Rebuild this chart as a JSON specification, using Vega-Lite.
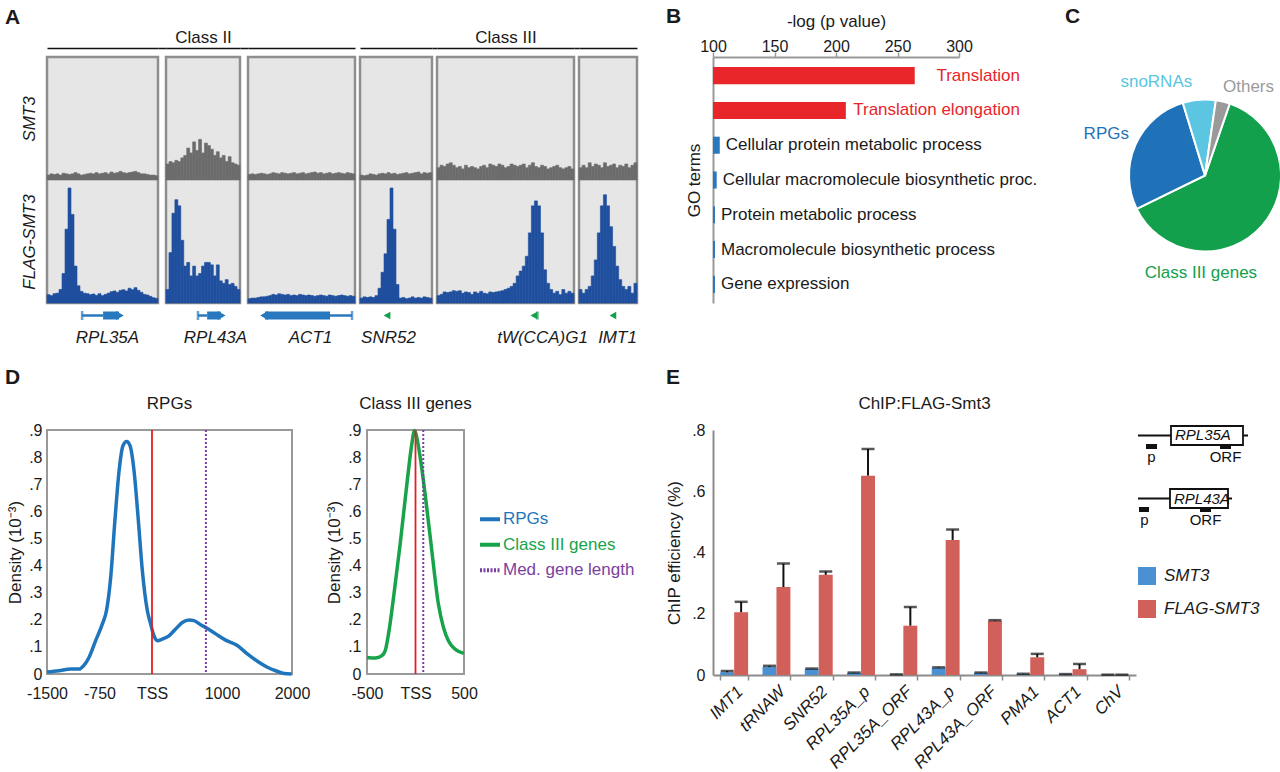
{
"$schema":"https://vega.github.io/schema/vega-lite/v6.json",
"background":"white",
"padding":{"left":5,"top":6,"right":0,"bottom":0},
"config":{"font":"Liberation Sans","view":{"stroke":null},"axis":{"grid":false,"labelColor":"#1a1a1a","titleColor":"#1a1a1a","titleFontWeight":"normal","labelFlush":false,"labelOverlap":false},"title":{"fontWeight":"normal","color":"#1a1a1a","baseline":"alphabetic"},"legend":{"labelColor":"#1a1a1a"}},
"datasets":{
"tracks":[
{"g":"RPL35A","b":0,"s":0.04,"f":0.068},{"g":"RPL35A","b":1,"s":0.05,"f":0.06},{"g":"RPL35A","b":2,"s":0.045,"f":0.076},{"g":"RPL35A","b":3,"s":0.05,"f":0.08},{"g":"RPL35A","b":4,"s":0.04,"f":0.11},{"g":"RPL35A","b":5,"s":0.055,"f":0.24},{"g":"RPL35A","b":6,"s":0.05,"f":0.6},{"g":"RPL35A","b":7,"s":0.045,"f":0.935},{"g":"RPL35A","b":8,"s":0.05,"f":0.72},{"g":"RPL35A","b":9,"s":0.06,"f":0.3},{"g":"RPL35A","b":10,"s":0.05,"f":0.14},{"g":"RPL35A","b":11,"s":0.04,"f":0.095},{"g":"RPL35A","b":12,"s":0.045,"f":0.08},{"g":"RPL35A","b":13,"s":0.05,"f":0.076},{"g":"RPL35A","b":14,"s":0.055,"f":0.068},{"g":"RPL35A","b":15,"s":0.05,"f":0.073},{"g":"RPL35A","b":16,"s":0.06,"f":0.062},{"g":"RPL35A","b":17,"s":0.05,"f":0.076},{"g":"RPL35A","b":18,"s":0.055,"f":0.06},{"g":"RPL35A","b":19,"s":0.06,"f":0.07},{"g":"RPL35A","b":20,"s":0.05,"f":0.08},{"g":"RPL35A","b":21,"s":0.065,"f":0.092},{"g":"RPL35A","b":22,"s":0.055,"f":0.098},{"g":"RPL35A","b":23,"s":0.06,"f":0.087},{"g":"RPL35A","b":24,"s":0.07,"f":0.103},{"g":"RPL35A","b":25,"s":0.06,"f":0.108},{"g":"RPL35A","b":26,"s":0.055,"f":0.098},{"g":"RPL35A","b":27,"s":0.06,"f":0.12},{"g":"RPL35A","b":28,"s":0.065,"f":0.108},{"g":"RPL35A","b":29,"s":0.07,"f":0.125},{"g":"RPL35A","b":30,"s":0.06,"f":0.103},{"g":"RPL35A","b":31,"s":0.05,"f":0.087},{"g":"RPL35A","b":32,"s":0.05,"f":0.07},{"g":"RPL35A","b":33,"s":0.045,"f":0.065},{"g":"RPL35A","b":34,"s":0.04,"f":0.054},{"g":"RPL35A","b":35,"s":0.04,"f":0.043},{"g":"RPL35A","b":36,"s":0.035,"f":0.038},
{"g":"RPL43A","b":0,"s":0.13,"f":0.11},{"g":"RPL43A","b":1,"s":0.15,"f":0.41},{"g":"RPL43A","b":2,"s":0.14,"f":0.73},{"g":"RPL43A","b":3,"s":0.16,"f":0.84},{"g":"RPL43A","b":4,"s":0.15,"f":0.79},{"g":"RPL43A","b":5,"s":0.18,"f":0.51},{"g":"RPL43A","b":6,"s":0.2,"f":0.3},{"g":"RPL43A","b":7,"s":0.26,"f":0.33},{"g":"RPL43A","b":8,"s":0.22,"f":0.22},{"g":"RPL43A","b":9,"s":0.31,"f":0.3},{"g":"RPL43A","b":10,"s":0.24,"f":0.22},{"g":"RPL43A","b":11,"s":0.33,"f":0.24},{"g":"RPL43A","b":12,"s":0.22,"f":0.3},{"g":"RPL43A","b":13,"s":0.3,"f":0.33},{"g":"RPL43A","b":14,"s":0.28,"f":0.33},{"g":"RPL43A","b":15,"s":0.25,"f":0.31},{"g":"RPL43A","b":16,"s":0.2,"f":0.22},{"g":"RPL43A","b":17,"s":0.23,"f":0.31},{"g":"RPL43A","b":18,"s":0.18,"f":0.18},{"g":"RPL43A","b":19,"s":0.2,"f":0.16},{"g":"RPL43A","b":20,"s":0.15,"f":0.19},{"g":"RPL43A","b":21,"s":0.19,"f":0.15},{"g":"RPL43A","b":22,"s":0.14,"f":0.16},{"g":"RPL43A","b":23,"s":0.13,"f":0.135},{"g":"RPL43A","b":24,"s":0.12,"f":0.11},
{"g":"ACT1","b":0,"s":0.045,"f":0.035},{"g":"ACT1","b":1,"s":0.05,"f":0.04},{"g":"ACT1","b":2,"s":0.045,"f":0.04},{"g":"ACT1","b":3,"s":0.05,"f":0.045},{"g":"ACT1","b":4,"s":0.055,"f":0.05},{"g":"ACT1","b":5,"s":0.05,"f":0.05},{"g":"ACT1","b":6,"s":0.045,"f":0.055},{"g":"ACT1","b":7,"s":0.05,"f":0.06},{"g":"ACT1","b":8,"s":0.06,"f":0.07},{"g":"ACT1","b":9,"s":0.055,"f":0.065},{"g":"ACT1","b":10,"s":0.05,"f":0.075},{"g":"ACT1","b":11,"s":0.06,"f":0.07},{"g":"ACT1","b":12,"s":0.055,"f":0.065},{"g":"ACT1","b":13,"s":0.05,"f":0.07},{"g":"ACT1","b":14,"s":0.055,"f":0.06},{"g":"ACT1","b":15,"s":0.06,"f":0.065},{"g":"ACT1","b":16,"s":0.05,"f":0.06},{"g":"ACT1","b":17,"s":0.055,"f":0.07},{"g":"ACT1","b":18,"s":0.06,"f":0.065},{"g":"ACT1","b":19,"s":0.05,"f":0.06},{"g":"ACT1","b":20,"s":0.055,"f":0.065},{"g":"ACT1","b":21,"s":0.06,"f":0.06},{"g":"ACT1","b":22,"s":0.065,"f":0.055},{"g":"ACT1","b":23,"s":0.055,"f":0.06},{"g":"ACT1","b":24,"s":0.06,"f":0.065},{"g":"ACT1","b":25,"s":0.05,"f":0.06},{"g":"ACT1","b":26,"s":0.055,"f":0.055},{"g":"ACT1","b":27,"s":0.06,"f":0.065},{"g":"ACT1","b":28,"s":0.05,"f":0.06},{"g":"ACT1","b":29,"s":0.055,"f":0.055},{"g":"ACT1","b":30,"s":0.06,"f":0.06},{"g":"ACT1","b":31,"s":0.055,"f":0.065},{"g":"ACT1","b":32,"s":0.05,"f":0.06},{"g":"ACT1","b":33,"s":0.06,"f":0.055},{"g":"ACT1","b":34,"s":0.055,"f":0.06},{"g":"ACT1","b":35,"s":0.05,"f":0.055},
{"g":"SNR52","b":0,"s":0.04,"f":0.04},{"g":"SNR52","b":1,"s":0.035,"f":0.05},{"g":"SNR52","b":2,"s":0.04,"f":0.045},{"g":"SNR52","b":3,"s":0.05,"f":0.05},{"g":"SNR52","b":4,"s":0.045,"f":0.045},{"g":"SNR52","b":5,"s":0.04,"f":0.06},{"g":"SNR52","b":6,"s":0.05,"f":0.12},{"g":"SNR52","b":7,"s":0.055,"f":0.25},{"g":"SNR52","b":8,"s":0.05,"f":0.4},{"g":"SNR52","b":9,"s":0.06,"f":0.68},{"g":"SNR52","b":10,"s":0.05,"f":0.935},{"g":"SNR52","b":11,"s":0.055,"f":0.6},{"g":"SNR52","b":12,"s":0.045,"f":0.15},{"g":"SNR52","b":13,"s":0.05,"f":0.04},{"g":"SNR52","b":14,"s":0.055,"f":0.045},{"g":"SNR52","b":15,"s":0.06,"f":0.035},{"g":"SNR52","b":16,"s":0.05,"f":0.04},{"g":"SNR52","b":17,"s":0.055,"f":0.05},{"g":"SNR52","b":18,"s":0.06,"f":0.04},{"g":"SNR52","b":19,"s":0.065,"f":0.045},{"g":"SNR52","b":20,"s":0.05,"f":0.04},{"g":"SNR52","b":21,"s":0.06,"f":0.05},{"g":"SNR52","b":22,"s":0.055,"f":0.045},{"g":"SNR52","b":23,"s":0.06,"f":0.04},
{"g":"tW(CCA)G1","b":0,"s":0.1,"f":0.06},{"g":"tW(CCA)G1","b":1,"s":0.12,"f":0.07},{"g":"tW(CCA)G1","b":2,"s":0.11,"f":0.09},{"g":"tW(CCA)G1","b":3,"s":0.13,"f":0.085},{"g":"tW(CCA)G1","b":4,"s":0.14,"f":0.09},{"g":"tW(CCA)G1","b":5,"s":0.12,"f":0.1},{"g":"tW(CCA)G1","b":6,"s":0.1,"f":0.095},{"g":"tW(CCA)G1","b":7,"s":0.11,"f":0.1},{"g":"tW(CCA)G1","b":8,"s":0.09,"f":0.08},{"g":"tW(CCA)G1","b":9,"s":0.12,"f":0.09},{"g":"tW(CCA)G1","b":10,"s":0.1,"f":0.085},{"g":"tW(CCA)G1","b":11,"s":0.11,"f":0.07},{"g":"tW(CCA)G1","b":12,"s":0.1,"f":0.09},{"g":"tW(CCA)G1","b":13,"s":0.09,"f":0.08},{"g":"tW(CCA)G1","b":14,"s":0.11,"f":0.095},{"g":"tW(CCA)G1","b":15,"s":0.12,"f":0.08},{"g":"tW(CCA)G1","b":16,"s":0.1,"f":0.075},{"g":"tW(CCA)G1","b":17,"s":0.13,"f":0.09},{"g":"tW(CCA)G1","b":18,"s":0.12,"f":0.085},{"g":"tW(CCA)G1","b":19,"s":0.11,"f":0.09},{"g":"tW(CCA)G1","b":20,"s":0.13,"f":0.095},{"g":"tW(CCA)G1","b":21,"s":0.12,"f":0.1},{"g":"tW(CCA)G1","b":22,"s":0.1,"f":0.11},{"g":"tW(CCA)G1","b":23,"s":0.11,"f":0.12},{"g":"tW(CCA)G1","b":24,"s":0.13,"f":0.135},{"g":"tW(CCA)G1","b":25,"s":0.12,"f":0.16},{"g":"tW(CCA)G1","b":26,"s":0.11,"f":0.22},{"g":"tW(CCA)G1","b":27,"s":0.12,"f":0.26},{"g":"tW(CCA)G1","b":28,"s":0.13,"f":0.3},{"g":"tW(CCA)G1","b":29,"s":0.1,"f":0.38},{"g":"tW(CCA)G1","b":30,"s":0.12,"f":0.57},{"g":"tW(CCA)G1","b":31,"s":0.14,"f":0.79},{"g":"tW(CCA)G1","b":32,"s":0.11,"f":0.83},{"g":"tW(CCA)G1","b":33,"s":0.1,"f":0.79},{"g":"tW(CCA)G1","b":34,"s":0.12,"f":0.57},{"g":"tW(CCA)G1","b":35,"s":0.11,"f":0.27},{"g":"tW(CCA)G1","b":36,"s":0.09,"f":0.16},{"g":"tW(CCA)G1","b":37,"s":0.1,"f":0.11},{"g":"tW(CCA)G1","b":38,"s":0.11,"f":0.08},{"g":"tW(CCA)G1","b":39,"s":0.12,"f":0.095},{"g":"tW(CCA)G1","b":40,"s":0.1,"f":0.068},{"g":"tW(CCA)G1","b":41,"s":0.09,"f":0.11},{"g":"tW(CCA)G1","b":42,"s":0.1,"f":0.08},{"g":"tW(CCA)G1","b":43,"s":0.11,"f":0.095},{"g":"tW(CCA)G1","b":44,"s":0.09,"f":0.08},
{"g":"IMT1","b":0,"s":0.1,"f":0.11},{"g":"IMT1","b":1,"s":0.12,"f":0.08},{"g":"IMT1","b":2,"s":0.1,"f":0.11},{"g":"IMT1","b":3,"s":0.14,"f":0.135},{"g":"IMT1","b":4,"s":0.11,"f":0.22},{"g":"IMT1","b":5,"s":0.13,"f":0.35},{"g":"IMT1","b":6,"s":0.12,"f":0.57},{"g":"IMT1","b":7,"s":0.1,"f":0.79},{"g":"IMT1","b":8,"s":0.14,"f":0.88},{"g":"IMT1","b":9,"s":0.11,"f":0.79},{"g":"IMT1","b":10,"s":0.12,"f":0.62},{"g":"IMT1","b":11,"s":0.13,"f":0.46},{"g":"IMT1","b":12,"s":0.1,"f":0.3},{"g":"IMT1","b":13,"s":0.12,"f":0.19},{"g":"IMT1","b":14,"s":0.11,"f":0.135},{"g":"IMT1","b":15,"s":0.13,"f":0.11},{"g":"IMT1","b":16,"s":0.1,"f":0.135},{"g":"IMT1","b":17,"s":0.12,"f":0.08},{"g":"IMT1","b":18,"s":0.14,"f":0.16}
],
"genes":[
{"g":"RPL35A","k":"thin","a":11.7,"b":18.7},{"g":"RPL35A","k":"end","a":11.7},{"g":"RPL35A","k":"thick","a":18.7,"b":24},{"g":"RPL35A","k":"headR","a":24.3},
{"g":"RPL43A","k":"thin","a":10.8,"b":13.9},{"g":"RPL43A","k":"end","a":10.8},{"g":"RPL43A","k":"thick","a":13.9,"b":18.5},{"g":"RPL43A","k":"headR","a":18.8},
{"g":"ACT1","k":"headL","a":5.4},{"g":"ACT1","k":"thick","a":5.7,"b":27.6},{"g":"ACT1","k":"thin","a":27.6,"b":35},{"g":"ACT1","k":"end","a":35},
{"g":"SNR52","k":"headL","a":9},
{"g":"tW(CCA)G1","k":"headL","a":31.8},{"g":"tW(CCA)G1","k":"end","a":33},
{"g":"IMT1","k":"headL","a":11.1}
],
"go":[
{"term":"Translation","v":264,"sig":"hi"},{"term":"Translation elongation","v":208,"sig":"hi"},{"term":"Cellular protein metabolic process","v":105.5,"sig":"lo"},{"term":"Cellular macromolecule biosynthetic proc.","v":103,"sig":"lo"},{"term":"Protein metabolic process","v":101.6,"sig":"lo"},{"term":"Macromolecule biosynthetic process","v":101.6,"sig":"lo"},{"term":"Gene expression","v":101.6,"sig":"lo"}
],
"pie":[
{"cat":"Class III genes","v":62.5,"i":1},{"cat":"RPGs","v":27.5,"i":2},{"cat":"snoRNAs","v":7,"i":3},{"cat":"Others","v":3,"i":4}
],
"rpg":[
{"pos":-1500,"d":0.007},{"pos":-1330,"d":0.012},{"pos":-1160,"d":0.018},{"pos":-1045,"d":0.018},{"pos":-970,"d":0.033},{"pos":-900,"d":0.061},{"pos":-805,"d":0.123},{"pos":-710,"d":0.184},{"pos":-650,"d":0.234},{"pos":-590,"d":0.357},{"pos":-530,"d":0.566},{"pos":-470,"d":0.75},{"pos":-415,"d":0.842},{"pos":-362,"d":0.858},{"pos":-314,"d":0.842},{"pos":-257,"d":0.75},{"pos":-195,"d":0.566},{"pos":-138,"d":0.381},{"pos":-67,"d":0.234},{"pos":-19,"d":0.184},{"pos":28,"d":0.141},{"pos":76,"d":0.123},{"pos":148,"d":0.129},{"pos":243,"d":0.141},{"pos":338,"d":0.166},{"pos":433,"d":0.19},{"pos":529,"d":0.199},{"pos":600,"d":0.197},{"pos":695,"d":0.182},{"pos":790,"d":0.168},{"pos":910,"d":0.148},{"pos":1052,"d":0.125},{"pos":1219,"d":0.105},{"pos":1362,"d":0.074},{"pos":1505,"d":0.047},{"pos":1648,"d":0.025},{"pos":1767,"d":0.012},{"pos":1886,"d":0.002},{"pos":1995,"d":0}
],
"cls3":[
{"pos":-500,"d":0.061},{"pos":-415,"d":0.059},{"pos":-346,"d":0.068},{"pos":-312,"d":0.086},{"pos":-278,"d":0.148},{"pos":-226,"d":0.283},{"pos":-158,"d":0.48},{"pos":-89,"d":0.7},{"pos":-38,"d":0.848},{"pos":-10,"d":0.898},{"pos":13,"d":0.873},{"pos":48,"d":0.8},{"pos":99,"d":0.664},{"pos":168,"d":0.455},{"pos":236,"d":0.258},{"pos":288,"d":0.172},{"pos":339,"d":0.123},{"pos":407,"d":0.092},{"pos":500,"d":0.076}
],
"refs":[
{"p":"RPGs","k":"TSS","x":0},{"p":"RPGs","k":"med","x":770},{"p":"Class III","k":"TSS","x":0},{"p":"Class III","k":"med","x":80}
],
"dleg":[{"name":"RPGs"},{"name":"Class III genes"},{"name":"Med. gene length"}],
"chip":[
{"t":"IMT1","s":"SMT3","v":0.009,"e":0.013},{"t":"IMT1","s":"FLAG-SMT3","v":0.205,"e":0.239},
{"t":"tRNAW","s":"SMT3","v":0.026,"e":0.03},{"t":"tRNAW","s":"FLAG-SMT3","v":0.287,"e":0.364},
{"t":"SNR52","s":"SMT3","v":0.02,"e":0.021},{"t":"SNR52","s":"FLAG-SMT3","v":0.327,"e":0.338},
{"t":"RPL35A_p","s":"SMT3","v":0.007,"e":0.008},{"t":"RPL35A_p","s":"FLAG-SMT3","v":0.651,"e":0.738},
{"t":"RPL35A_ORF","s":"SMT3","v":0.001,"e":0.002},{"t":"RPL35A_ORF","s":"FLAG-SMT3","v":0.161,"e":0.222},
{"t":"RPL43A_p","s":"SMT3","v":0.023,"e":0.025},{"t":"RPL43A_p","s":"FLAG-SMT3","v":0.441,"e":0.475},
{"t":"RPL43A_ORF","s":"SMT3","v":0.007,"e":0.008},{"t":"RPL43A_ORF","s":"FLAG-SMT3","v":0.177,"e":0.179},
{"t":"PMA1","s":"SMT3","v":0.003,"e":0.004},{"t":"PMA1","s":"FLAG-SMT3","v":0.058,"e":0.069},
{"t":"ACT1","s":"SMT3","v":0.002,"e":0.003},{"t":"ACT1","s":"FLAG-SMT3","v":0.019,"e":0.036},
{"t":"ChV","s":"SMT3","v":0.001,"e":0.001},{"t":"ChV","s":"FLAG-SMT3","v":0.001,"e":0.001}
],
"diag":[
{"gene":"RPL35A","el":"line","a":0,"b":110},{"gene":"RPL35A","el":"box","a":33,"b":105},{"gene":"RPL35A","el":"p","a":8,"b":19},{"gene":"RPL35A","el":"ORF","a":82,"b":93},
{"gene":"RPL43A","el":"line","a":0,"b":94},{"gene":"RPL43A","el":"box","a":32,"b":90},{"gene":"RPL43A","el":"p","a":1,"b":11},{"gene":"RPL43A","el":"ORF","a":62,"b":73}
]
},
"spacing":22,
"resolve":{"scale":{"color":"independent"},"legend":{"color":"independent"}},
"vconcat":[
{"columns":15,"align":"each","bounds":"flush","spacing":0,
 "resolve":{"scale":{"color":"independent"},"legend":{"color":"independent"}},
 "concat":[
{"width":111,"height":9,"data":{"values":[{"c":"x"}]},"mark":{"type":"point","opacity":0},"encoding":{"x":{"field":"c","type":"nominal","axis":{"orient":"top","title":null,"labels":false,"ticks":false,"domainColor":"#111","domainWidth":1.5}}},"title":{"text":"A","anchor":"start","frame":"group","fontSize":21,"fontWeight":"bold","dx":-42,"offset":20}},
{"width":8,"height":9,"data":{"values":[{"c":"x"}]},"mark":{"type":"point","opacity":0},"encoding":{"x":{"field":"c","type":"nominal","axis":{"orient":"top","title":null,"labels":false,"ticks":false,"domainColor":"#111","domainWidth":1.5}}}},
{"width":74,"height":9,"data":{"values":[{"c":"x"}]},"mark":{"type":"point","opacity":0},"encoding":{"x":{"field":"c","type":"nominal","axis":{"orient":"top","title":"Class II","labels":false,"ticks":false,"domainColor":"#111","domainWidth":1.5,"titleFontSize":17,"titlePadding":2}}}},
{"width":8,"height":9,"data":{"values":[{"c":"x"}]},"mark":{"type":"point","opacity":0},"encoding":{"x":{"field":"c","type":"nominal","axis":{"orient":"top","title":null,"labels":false,"ticks":false,"domainColor":"#111","domainWidth":1.5}}}},
{"width":107,"height":9,"data":{"values":[{"c":"x"}]},"mark":{"type":"point","opacity":0},"encoding":{"x":{"field":"c","type":"nominal","axis":{"orient":"top","title":null,"labels":false,"ticks":false,"domainColor":"#111","domainWidth":1.5}}}},
{"width":5,"height":9,"data":{"values":[]},"mark":"point"},
{"width":72,"height":9,"data":{"values":[{"c":"x"}]},"mark":{"type":"point","opacity":0},"encoding":{"x":{"field":"c","type":"nominal","axis":{"orient":"top","title":null,"labels":false,"ticks":false,"domainColor":"#111","domainWidth":1.5}}}},
{"width":5,"height":9,"data":{"values":[{"c":"x"}]},"mark":{"type":"point","opacity":0},"encoding":{"x":{"field":"c","type":"nominal","axis":{"orient":"top","title":null,"labels":false,"ticks":false,"domainColor":"#111","domainWidth":1.5}}}},
{"width":137,"height":9,"data":{"values":[{"c":"x"}]},"mark":{"type":"point","opacity":0},"encoding":{"x":{"field":"c","type":"nominal","axis":{"orient":"top","title":"Class III","labels":false,"ticks":false,"domainColor":"#111","domainWidth":1.5,"titleFontSize":17,"titlePadding":2}}}},
{"width":5,"height":9,"data":{"values":[{"c":"x"}]},"mark":{"type":"point","opacity":0},"encoding":{"x":{"field":"c","type":"nominal","axis":{"orient":"top","title":null,"labels":false,"ticks":false,"domainColor":"#111","domainWidth":1.5}}}},
{"width":58,"height":9,"data":{"values":[{"c":"x"}]},"mark":{"type":"point","opacity":0},"encoding":{"x":{"field":"c","type":"nominal","axis":{"orient":"top","title":null,"labels":false,"ticks":false,"domainColor":"#111","domainWidth":1.5}}}},
{"width":76,"height":9,"data":{"values":[]},"mark":"point"},
{"width":246,"height":9,"data":{"values":[]},"mark":"point","title":{"text":"B","anchor":"start","frame":"group","fontSize":21,"fontWeight":"bold","dx":-47,"offset":21}},
{"width":170,"height":9,"data":{"values":[]},"mark":"point"},
{"width":152,"height":9,"data":{"values":[]},"mark":"point","title":{"text":"C","anchor":"start","frame":"group","fontSize":21,"fontWeight":"bold","dx":-64,"offset":21}},

{"width":111,"height":246,"view":{"stroke":"#8e8e8e","strokeWidth":2.5,"fill":"#e6e6e6"},"data":{"name":"tracks"},"transform":[{"filter":"datum.g == 'RPL35A'"}],
 "layer":[
  {"mark":{"type":"bar","color":"#6b6b6b","stroke":"#6b6b6b","strokeWidth":0.6},"encoding":{"x":{"field":"b","type":"ordinal","scale":{"paddingInner":0,"paddingOuter":0},"axis":null},"y":{"field":"s","type":"quantitative","scale":{"domain":[-1,1],"nice":false},"axis":null}}},
  {"mark":{"type":"bar","color":"#1f4f9e","stroke":"#1f4f9e","strokeWidth":0.6},"encoding":{"x":{"field":"b","type":"ordinal","axis":null},"y":{"field":"f","type":"quantitative","scale":{"domain":[0,2],"nice":false},"axis":{"values":[0.5,1.5],"labelExpr":"datum.value > 1 ? 'SMT3' : 'FLAG-SMT3'","labelAngle":-90,"labelAlign":"center","labelBaseline":"bottom","labelFontSize":17,"labelFontStyle":"italic","labelPadding":9,"domain":false,"ticks":false,"title":null}}}}
 ],"resolve":{"scale":{"y":"independent"}}},
{"width":8,"height":246,"data":{"values":[]},"mark":"point"},
{"width":74,"height":246,"view":{"stroke":"#8e8e8e","strokeWidth":2.5,"fill":"#e6e6e6"},"data":{"name":"tracks"},"transform":[{"filter":"datum.g == 'RPL43A'"}],
 "layer":[
  {"mark":{"type":"bar","color":"#6b6b6b","stroke":"#6b6b6b","strokeWidth":0.6},"encoding":{"x":{"field":"b","type":"ordinal","scale":{"paddingInner":0,"paddingOuter":0},"axis":null},"y":{"field":"s","type":"quantitative","scale":{"domain":[-1,1],"nice":false},"axis":null}}},
  {"mark":{"type":"bar","color":"#1f4f9e","stroke":"#1f4f9e","strokeWidth":0.6},"encoding":{"x":{"field":"b","type":"ordinal","axis":null},"y":{"field":"f","type":"quantitative","scale":{"domain":[0,2],"nice":false},"axis":null}}}
 ],"resolve":{"scale":{"y":"independent"}}},
{"width":8,"height":246,"data":{"values":[]},"mark":"point"},
{"width":107,"height":246,"view":{"stroke":"#8e8e8e","strokeWidth":2.5,"fill":"#e6e6e6"},"data":{"name":"tracks"},"transform":[{"filter":"datum.g == 'ACT1'"}],
 "layer":[
  {"mark":{"type":"bar","color":"#6b6b6b","stroke":"#6b6b6b","strokeWidth":0.6},"encoding":{"x":{"field":"b","type":"ordinal","scale":{"paddingInner":0,"paddingOuter":0},"axis":null},"y":{"field":"s","type":"quantitative","scale":{"domain":[-1,1],"nice":false},"axis":null}}},
  {"mark":{"type":"bar","color":"#1f4f9e","stroke":"#1f4f9e","strokeWidth":0.6},"encoding":{"x":{"field":"b","type":"ordinal","axis":null},"y":{"field":"f","type":"quantitative","scale":{"domain":[0,2],"nice":false},"axis":null}}}
 ],"resolve":{"scale":{"y":"independent"}}},
{"width":5,"height":246,"data":{"values":[]},"mark":"point"},
{"width":72,"height":246,"view":{"stroke":"#8e8e8e","strokeWidth":2.5,"fill":"#e6e6e6"},"data":{"name":"tracks"},"transform":[{"filter":"datum.g == 'SNR52'"}],
 "layer":[
  {"mark":{"type":"bar","color":"#6b6b6b","stroke":"#6b6b6b","strokeWidth":0.6},"encoding":{"x":{"field":"b","type":"ordinal","scale":{"paddingInner":0,"paddingOuter":0},"axis":null},"y":{"field":"s","type":"quantitative","scale":{"domain":[-1,1],"nice":false},"axis":null}}},
  {"mark":{"type":"bar","color":"#1f4f9e","stroke":"#1f4f9e","strokeWidth":0.6},"encoding":{"x":{"field":"b","type":"ordinal","axis":null},"y":{"field":"f","type":"quantitative","scale":{"domain":[0,2],"nice":false},"axis":null}}}
 ],"resolve":{"scale":{"y":"independent"}}},
{"width":5,"height":246,"data":{"values":[]},"mark":"point"},
{"width":137,"height":246,"view":{"stroke":"#8e8e8e","strokeWidth":2.5,"fill":"#e6e6e6"},"data":{"name":"tracks"},"transform":[{"filter":"datum.g == 'tW(CCA)G1'"}],
 "layer":[
  {"mark":{"type":"bar","color":"#6b6b6b","stroke":"#6b6b6b","strokeWidth":0.6},"encoding":{"x":{"field":"b","type":"ordinal","scale":{"paddingInner":0,"paddingOuter":0},"axis":null},"y":{"field":"s","type":"quantitative","scale":{"domain":[-1,1],"nice":false},"axis":null}}},
  {"mark":{"type":"bar","color":"#1f4f9e","stroke":"#1f4f9e","strokeWidth":0.6},"encoding":{"x":{"field":"b","type":"ordinal","axis":null},"y":{"field":"f","type":"quantitative","scale":{"domain":[0,2],"nice":false},"axis":null}}}
 ],"resolve":{"scale":{"y":"independent"}}},
{"width":5,"height":246,"data":{"values":[]},"mark":"point"},
{"width":58,"height":246,"view":{"stroke":"#8e8e8e","strokeWidth":2.5,"fill":"#e6e6e6"},"data":{"name":"tracks"},"transform":[{"filter":"datum.g == 'IMT1'"}],
 "layer":[
  {"mark":{"type":"bar","color":"#6b6b6b","stroke":"#6b6b6b","strokeWidth":0.6},"encoding":{"x":{"field":"b","type":"ordinal","scale":{"paddingInner":0,"paddingOuter":0},"axis":null},"y":{"field":"s","type":"quantitative","scale":{"domain":[-1,1],"nice":false},"axis":null}}},
  {"mark":{"type":"bar","color":"#1f4f9e","stroke":"#1f4f9e","strokeWidth":0.6},"encoding":{"x":{"field":"b","type":"ordinal","axis":null},"y":{"field":"f","type":"quantitative","scale":{"domain":[0,2],"nice":false},"axis":null}}}
 ],"resolve":{"scale":{"y":"independent"}}},
{"width":76,"height":246,"data":{"values":[]},"mark":"point"},
{"width":246,"height":246,"data":{"name":"go"},
 "encoding":{"y":{"field":"term","type":"nominal","sort":null,"scale":{"domain":["Translation","Translation elongation","Cellular protein metabolic process","Cellular macromolecule biosynthetic proc.","Protein metabolic process","Macromolecule biosynthetic process","Gene expression"],"paddingInner":0.51,"paddingOuter":0.29},"axis":{"orient":"left","title":"GO terms","titleFontSize":17,"titlePadding":10,"labels":false,"ticks":false,"domainColor":"#999999","domainWidth":2}}},
 "layer":[
  {"mark":{"type":"bar"},"encoding":{"x":{"field":"v","type":"quantitative","scale":{"domain":[100,300],"nice":false,"zero":false},"axis":{"orient":"top","values":[100,150,200,250,300],"title":"-log (p value)","titleFontSize":17,"titlePadding":8,"labelFontSize":16,"labelPadding":-2,"tickSize":5,"tickColor":"#999999","tickWidth":1.5,"domainColor":"#999999","domainWidth":2}},"x2":{"datum":100},"color":{"field":"sig","type":"nominal","scale":{"domain":["hi","lo"],"range":["#e8262a","#2878c0"]},"legend":null}}},
  {"transform":[{"filter":"datum.sig == 'hi'"}],"mark":{"type":"text","align":"right","fontSize":17,"color":"#e8262a"},"encoding":{"x":{"datum":349.5,"type":"quantitative"},"text":{"field":"term"}}},
  {"transform":[{"filter":"datum.sig == 'lo'"}],"mark":{"type":"text","align":"left","dx":6,"fontSize":17,"color":"#1a1a1a"},"encoding":{"x":{"field":"v","type":"quantitative"},"text":{"field":"term"}}}
 ]},
{"width":170,"height":246,"data":{"values":[]},"mark":"point"},
{"width":152,"height":237,"data":{"name":"pie"},
 "encoding":{"theta":{"field":"v","type":"quantitative","stack":true,"scale":{"range":[0.3316,6.6148]}},"order":{"field":"i","type":"quantitative"}},
 "layer":[
  {"mark":{"type":"arc","outerRadius":76,"stroke":"white","strokeWidth":2},"encoding":{"color":{"field":"cat","type":"nominal","scale":{"domain":["Class III genes","RPGs","snoRNAs","Others"],"range":["#12a04c","#1f72b7","#5bc5e2","#9a9a9a"]},"legend":null}}},
  {"mark":{"type":"text","radius":100,"dx":-79,"dy":31,"fontSize":17,"color":"#12a04c"},"encoding":{"text":{"condition":{"test":"datum.cat == 'Class III genes'","field":"cat"},"value":""}}},
  {"mark":{"type":"text","radius":100,"dx":-7,"dy":-2,"fontSize":17,"color":"#1f72b7"},"encoding":{"text":{"condition":{"test":"datum.cat == 'RPGs'","field":"cat"},"value":""}}},
  {"mark":{"type":"text","radius":100,"dx":-41,"dy":6,"fontSize":17,"color":"#5bc5e2"},"encoding":{"text":{"condition":{"test":"datum.cat == 'snoRNAs'","field":"cat"},"value":""}}},
  {"mark":{"type":"text","radius":100,"dx":20,"dy":9,"fontSize":17,"color":"#9a9a9a"},"encoding":{"text":{"condition":{"test":"datum.cat == 'Others'","field":"cat"},"value":""}}}
 ]},

{"width":111,"height":25,"data":{"name":"genes"},"transform":[{"filter":"datum.g == 'RPL35A'"}],
 "encoding":{"x":{"field":"a","type":"quantitative","scale":{"domain":[0,37],"nice":false,"zero":false},"axis":{"title":"RPL35A","orient":"bottom","domain":false,"ticks":false,"labels":false,"titleFontStyle":"italic","titleFontSize":17,"titlePadding":1,"titleX":60}},"y":{"field":"g","type":"nominal","axis":null}},
 "layer":[
  {"transform":[{"filter":"datum.k == 'thin'"}],"mark":{"type":"rule","color":"#2878c0","strokeWidth":2.5},"encoding":{"x2":{"field":"b"}}},
  {"transform":[{"filter":"datum.k == 'thick'"}],"mark":{"type":"bar","color":"#2878c0","height":8},"encoding":{"x2":{"field":"b"}}},
  {"transform":[{"filter":"datum.k == 'end'"}],"mark":{"type":"tick","color":"#2878c0","size":9,"thickness":2.5}},
  {"transform":[{"filter":"datum.k == 'headR'"}],"mark":{"type":"point","shape":"triangle-right","filled":true,"size":80,"color":"#2878c0","opacity":1}}
 ]},
{"width":8,"height":25,"data":{"values":[]},"mark":"point"},
{"width":74,"height":25,"data":{"name":"genes"},"transform":[{"filter":"datum.g == 'RPL43A'"}],
 "encoding":{"x":{"field":"a","type":"quantitative","scale":{"domain":[0,25],"nice":false,"zero":false},"axis":{"title":"RPL43A","orient":"bottom","domain":false,"ticks":false,"labels":false,"titleFontStyle":"italic","titleFontSize":17,"titlePadding":1,"titleX":49}},"y":{"field":"g","type":"nominal","axis":null}},
 "layer":[
  {"transform":[{"filter":"datum.k == 'thin'"}],"mark":{"type":"rule","color":"#2878c0","strokeWidth":2.5},"encoding":{"x2":{"field":"b"}}},
  {"transform":[{"filter":"datum.k == 'thick'"}],"mark":{"type":"bar","color":"#2878c0","height":8},"encoding":{"x2":{"field":"b"}}},
  {"transform":[{"filter":"datum.k == 'end'"}],"mark":{"type":"tick","color":"#2878c0","size":9,"thickness":2.5}},
  {"transform":[{"filter":"datum.k == 'headR'"}],"mark":{"type":"point","shape":"triangle-right","filled":true,"size":80,"color":"#2878c0","opacity":1}}
 ]},
{"width":8,"height":25,"data":{"values":[]},"mark":"point"},
{"width":107,"height":25,"data":{"name":"genes"},"transform":[{"filter":"datum.g == 'ACT1'"}],
 "encoding":{"x":{"field":"a","type":"quantitative","scale":{"domain":[0,36],"nice":false,"zero":false},"axis":{"title":"ACT1","orient":"bottom","domain":false,"ticks":false,"labels":false,"titleFontStyle":"italic","titleFontSize":17,"titlePadding":1,"titleX":62}},"y":{"field":"g","type":"nominal","axis":null}},
 "layer":[
  {"transform":[{"filter":"datum.k == 'thin'"}],"mark":{"type":"rule","color":"#2878c0","strokeWidth":2.5},"encoding":{"x2":{"field":"b"}}},
  {"transform":[{"filter":"datum.k == 'thick'"}],"mark":{"type":"bar","color":"#2878c0","height":8},"encoding":{"x2":{"field":"b"}}},
  {"transform":[{"filter":"datum.k == 'end'"}],"mark":{"type":"tick","color":"#2878c0","size":9,"thickness":2.5}},
  {"transform":[{"filter":"datum.k == 'headL'"}],"mark":{"type":"point","shape":"triangle-left","filled":true,"size":80,"color":"#2878c0","opacity":1}}
 ]},
{"width":5,"height":25,"data":{"values":[]},"mark":"point"},
{"width":72,"height":25,"data":{"name":"genes"},"transform":[{"filter":"datum.g == 'SNR52'"}],
 "encoding":{"x":{"field":"a","type":"quantitative","scale":{"domain":[0,24],"nice":false,"zero":false},"axis":{"title":"SNR52","orient":"bottom","domain":false,"ticks":false,"labels":false,"titleFontStyle":"italic","titleFontSize":17,"titlePadding":1,"titleX":28}},"y":{"field":"g","type":"nominal","axis":null}},
 "layer":[
  {"transform":[{"filter":"datum.k == 'headL'"}],"mark":{"type":"point","shape":"triangle-left","filled":true,"size":60,"color":"#12a04c","opacity":1}}
 ]},
{"width":5,"height":25,"data":{"values":[]},"mark":"point"},
{"width":137,"height":25,"data":{"name":"genes"},"transform":[{"filter":"datum.g == 'tW(CCA)G1'"}],
 "encoding":{"x":{"field":"a","type":"quantitative","scale":{"domain":[0,45],"nice":false,"zero":false},"axis":{"title":"tW(CCA)G1","orient":"bottom","domain":false,"ticks":false,"labels":false,"titleFontStyle":"italic","titleFontSize":17,"titlePadding":1,"titleX":105}},"y":{"field":"g","type":"nominal","axis":null}},
 "layer":[
  {"transform":[{"filter":"datum.k == 'end'"}],"mark":{"type":"tick","color":"#12a04c","size":8,"thickness":2.5}},
  {"transform":[{"filter":"datum.k == 'headL'"}],"mark":{"type":"point","shape":"triangle-left","filled":true,"size":60,"color":"#12a04c","opacity":1}}
 ]},
{"width":5,"height":25,"data":{"values":[]},"mark":"point"},
{"width":58,"height":25,"data":{"name":"genes"},"transform":[{"filter":"datum.g == 'IMT1'"}],
 "encoding":{"x":{"field":"a","type":"quantitative","scale":{"domain":[0,19],"nice":false,"zero":false},"axis":{"title":"IMT1","orient":"bottom","domain":false,"ticks":false,"labels":false,"titleFontStyle":"italic","titleFontSize":17,"titlePadding":1,"titleX":38}},"y":{"field":"g","type":"nominal","axis":null}},
 "layer":[
  {"transform":[{"filter":"datum.k == 'headL'"}],"mark":{"type":"point","shape":"triangle-left","filled":true,"size":60,"color":"#12a04c","opacity":1}}
 ]},
{"width":1,"height":25,"data":{"values":[]},"mark":"point"},
{"width":1,"height":25,"data":{"values":[]},"mark":"point"},
{"width":1,"height":25,"data":{"values":[]},"mark":"point"},
{"width":1,"height":25,"data":{"values":[]},"mark":"point"}
 ]},
{"bounds":"flush","spacing":0,
 "resolve":{"scale":{"color":"independent"},"legend":{"color":"independent"}},
 "hconcat":[
{"width":245,"height":244,"title":{"text":"RPGs","fontSize":17,"offset":9},"view":{"stroke":"#999999","strokeWidth":2},
 "layer":[
  {"data":{"name":"rpg"},"mark":{"type":"line","color":"#1f75bc","strokeWidth":3.5,"interpolate":"monotone"},
   "encoding":{"x":{"field":"pos","type":"quantitative","scale":{"domain":[-1500,2000],"nice":false,"zero":false},"axis":{"values":[-1500,-750,0,1000,2000],"labelExpr":"datum.value == 0 ? 'TSS' : toString(datum.value)","title":null,"domain":false,"ticks":false,"labelFontSize":16,"labelPadding":11}},
    "y":{"field":"d","type":"quantitative","scale":{"domain":[0,0.9],"nice":false},"axis":{"values":[0,0.1,0.2,0.3,0.4,0.5,0.6,0.7,0.8,0.9],"labelExpr":"datum.value == 0 ? '0' : replace(format(datum.value, '.1f'), '0.', '.')","title":"Density (10⁻³)","titleFontSize":17,"titlePadding":4,"domain":false,"ticks":false,"labelFontSize":16,"labelPadding":5}}}},
  {"data":{"name":"refs"},"transform":[{"filter":"datum.p == 'RPGs' && datum.k == 'TSS'"}],"mark":{"type":"rule","color":"#e31e24","strokeWidth":1.8},"encoding":{"x":{"field":"x","type":"quantitative"}}},
  {"data":{"name":"refs"},"transform":[{"filter":"datum.p == 'RPGs' && datum.k == 'med'"}],"mark":{"type":"rule","color":"#7b3fa0","strokeWidth":2,"strokeDash":[2,2]},"encoding":{"x":{"field":"x","type":"quantitative"}}}
 ]},
{"width":75,"height":244,"data":{"values":[]},"mark":"point","title":{"text":"D","anchor":"start","frame":"group","fontSize":21,"fontWeight":"bold","dx":-287,"offset":42}},
{"width":97,"height":244,"title":{"text":"Class III genes","fontSize":17,"offset":9},"view":{"stroke":"#999999","strokeWidth":2},
 "layer":[
  {"data":{"name":"cls3"},"mark":{"type":"line","color":"#17a34a","strokeWidth":3.5,"interpolate":"monotone"},
   "encoding":{"x":{"field":"pos","type":"quantitative","scale":{"domain":[-500,500],"nice":false,"zero":false},"axis":{"values":[-500,0,500],"labelExpr":"datum.value == 0 ? 'TSS' : toString(datum.value)","title":null,"domain":false,"ticks":false,"labelFontSize":16,"labelPadding":11}},
    "y":{"field":"d","type":"quantitative","scale":{"domain":[0,0.9],"nice":false},"axis":{"values":[0,0.1,0.2,0.3,0.4,0.5,0.6,0.7,0.8,0.9],"labelExpr":"datum.value == 0 ? '0' : replace(format(datum.value, '.1f'), '0.', '.')","title":"Density (10⁻³)","titleFontSize":17,"titlePadding":4,"domain":false,"ticks":false,"labelFontSize":16,"labelPadding":6}}}},
  {"data":{"name":"refs"},"transform":[{"filter":"datum.p == 'Class III' && datum.k == 'TSS'"}],"mark":{"type":"rule","color":"#e31e24","strokeWidth":1.8},"encoding":{"x":{"field":"x","type":"quantitative"}}},
  {"data":{"name":"refs"},"transform":[{"filter":"datum.p == 'Class III' && datum.k == 'med'"}],"mark":{"type":"rule","color":"#7b3fa0","strokeWidth":2,"strokeDash":[2,2]},"encoding":{"x":{"field":"x","type":"quantitative"}}}
 ]},
{"width":16,"height":244,"data":{"values":[]},"mark":"point"},
{"width":20,"height":244,"data":{"name":"dleg"},
 "encoding":{"y":{"field":"name","type":"nominal","scale":{"type":"band","domain":["_a","_b","_c","RPGs","Class III genes","Med. gene length","_d","_e","_f"],"paddingInner":0,"paddingOuter":0.285,"align":0},"axis":null},
  "color":{"field":"name","type":"nominal","scale":{"domain":["RPGs","Class III genes","Med. gene length"],"range":["#1f75bc","#17a34a","#7b3fa0"]},"legend":null}},
 "layer":[
  {"mark":{"type":"rule","strokeWidth":4},"encoding":{"x":{"datum":0,"type":"quantitative","scale":{"domain":[0,1]},"axis":null},"x2":{"datum":1},"strokeDash":{"field":"name","type":"nominal","scale":{"domain":["RPGs","Class III genes","Med. gene length"],"range":[[1,0],[1,0],[2,1.5]]},"legend":null}}},
  {"mark":{"type":"text","align":"left","dx":3,"fontSize":17,"baseline":"middle"},"encoding":{"x":{"datum":1,"type":"quantitative"},"text":{"field":"name"}}}
 ]},
{"width":213,"height":244,"data":{"values":[]},"mark":"point","title":{"text":"E","anchor":"start","frame":"group","fontSize":21,"fontWeight":"bold","dx":166,"offset":42}},
{"width":423,"height":245,"title":{"text":"ChIP:FLAG-Smt3","fontSize":17,"offset":9},"data":{"name":"chip"},
 "encoding":{"x":{"field":"t","type":"nominal","sort":null,"scale":{"domain":["IMT1","tRNAW","SNR52","RPL35A_p","RPL35A_ORF","RPL43A_p","RPL43A_ORF","PMA1","ACT1","ChV"],"paddingInner":0.34,"paddingOuter":0.17},"axis":{"title":null,"labelAngle":-45,"labelFontSize":17,"labelFontStyle":"italic","domainColor":"#8c8c8c","domainWidth":2,"tickColor":"#8c8c8c","tickBand":"extent","tickSize":5,"tickWidth":1.5,"labelPadding":3}},
  "xOffset":{"field":"s","type":"nominal","scale":{"domain":["SMT3","FLAG-SMT3"],"paddingInner":0,"paddingOuter":0}}},
 "layer":[
  {"mark":{"type":"bar"},"encoding":{"y":{"field":"v","type":"quantitative","scale":{"domain":[0,0.8],"nice":false},"axis":{"values":[0,0.2,0.4,0.6,0.8],"labelExpr":"datum.value == 0 ? '0' : replace(format(datum.value, '.1f'), '0.', '.')","title":"ChIP efficiency (%)","titleFontSize":17,"titlePadding":8,"labelFontSize":16,"labelPadding":8,"domainColor":"#8c8c8c","domainWidth":2,"ticks":false}},
   "color":{"field":"s","type":"nominal","scale":{"domain":["SMT3","FLAG-SMT3"],"range":["#4a90d2","#d2605a"]},"legend":{"title":null,"orient":"none","legendX":425,"legendY":137,"symbolType":"square","symbolSize":324,"symbolStrokeWidth":0,"symbolOpacity":1,"labelFontSize":17,"labelFontStyle":"italic","rowPadding":15,"labelOffset":8}}}},
  {"mark":{"type":"rule","color":"#111111","strokeWidth":2},"encoding":{"y":{"field":"v","type":"quantitative"},"y2":{"field":"e"}}},
  {"mark":{"type":"tick","color":"#111111","thickness":2.5,"size":13},"encoding":{"y":{"field":"e","type":"quantitative"}}}
 ]},
{"width":2,"height":244,"data":{"values":[]},"mark":"point"},
{"width":120,"height":244,"data":{"name":"diag"},
 "encoding":{"x":{"field":"a","type":"quantitative","scale":{"domain":[0,120],"nice":false,"zero":false},"axis":null},
  "y":{"field":"gene","type":"nominal","scale":{"domain":["RPL35A","RPL43A"],"paddingInner":0.127,"paddingOuter":1,"align":0},"axis":null}},
 "layer":[
  {"transform":[{"filter":"datum.el == 'line'"}],"mark":{"type":"rule","color":"#111111","strokeWidth":2},"encoding":{"x2":{"field":"b"},"yOffset":{"datum":"gene","type":"nominal","scale":{"domain":["gene","probe","label","_x","_y"],"paddingInner":0,"paddingOuter":0}}}},
  {"transform":[{"filter":"datum.el == 'box'"}],"mark":{"type":"bar","fill":"white","stroke":"#111111","strokeWidth":1.8,"height":19},"encoding":{"x2":{"field":"b"},"yOffset":{"datum":"gene","type":"nominal"}}},
  {"transform":[{"filter":"datum.el == 'box'"}],"mark":{"type":"text","align":"left","dx":4,"fontSize":15,"fontStyle":"italic","color":"#111111"},"encoding":{"yOffset":{"datum":"gene","type":"nominal"},"text":{"field":"gene"}}},
  {"transform":[{"filter":"datum.el == 'p' || datum.el == 'ORF'"}],"mark":{"type":"bar","color":"#111111","height":5},"encoding":{"x2":{"field":"b"},"yOffset":{"datum":"probe","type":"nominal"}}},
  {"transform":[{"filter":"datum.el == 'p' || datum.el == 'ORF'"}],"mark":{"type":"text","align":"center","dx":5.5,"fontSize":15,"color":"#111111"},"encoding":{"yOffset":{"datum":"label","type":"nominal"},"text":{"field":"el"}}}
 ]}
 ]}
]
}
